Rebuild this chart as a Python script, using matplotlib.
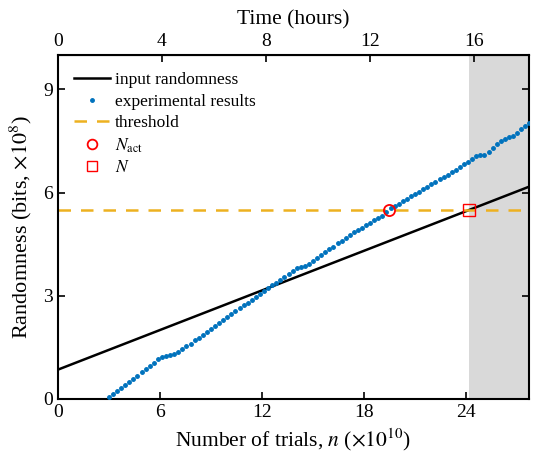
import numpy as np
import matplotlib
matplotlib.use("Agg")
import matplotlib.pyplot as plt
from matplotlib.lines import Line2D

plt.rcParams['font.family'] = ['Liberation Serif', 'DejaVu Serif']
plt.rcParams['mathtext.fontset'] = 'stix'

# ---- data ----
n_trials = [3.00 + 0.24 * i for i in range(104)]  # x 10^10 trials
exp_random = [
    0.05, 0.14, 0.23, 0.32, 0.41, 0.50, 0.59, 0.68, 0.78, 0.87,
    0.96, 1.05, 1.16, 1.21, 1.24, 1.27, 1.31, 1.36, 1.44, 1.53,
    1.61, 1.70, 1.78, 1.87, 1.95, 2.04, 2.12, 2.21, 2.29, 2.38,
    2.46, 2.55, 2.63, 2.72, 2.80, 2.89, 2.97, 3.06, 3.14, 3.22,
    3.30, 3.38, 3.46, 3.55, 3.63, 3.71, 3.80, 3.83, 3.85, 3.92,
    4.00, 4.09, 4.18, 4.26, 4.35, 4.43, 4.52, 4.60, 4.69, 4.77,
    4.84, 4.91, 4.98, 5.05, 5.12, 5.19, 5.26, 5.33, 5.44, 5.54,
    5.61, 5.68, 5.75, 5.82, 5.89, 5.96, 6.03, 6.10, 6.17, 6.24,
    6.31, 6.38, 6.45, 6.52, 6.59, 6.66, 6.74, 6.82, 6.90, 6.98,
    7.06, 7.08, 7.10, 7.17, 7.29, 7.41, 7.51, 7.57, 7.61, 7.64,
    7.74, 7.84, 7.93, 8.02,
]
input_line_x = [0.0, 27.7]
input_line_y = [0.85, 6.17]
threshold = 5.48
n_act = 19.45
n_req = 24.15
x_max = 27.7
x_ticks = [0, 6, 12, 18, 24]
y_ticks = [0, 3, 6, 9]
hour_ticks = [0, 4, 8, 12, 16]
trials_per_hour = 1.53  # x 10^10 trials per hour

blue = '#0072BD'
orange = '#EDB120'

fig = plt.figure(figsize=(5.36, 4.66), dpi=100)
ax = fig.add_axes([0.108, 0.144, 0.879, 0.738])

ax.axvspan(n_req, x_max, color='#d9d9d9', lw=0, zorder=0)
ax.plot(input_line_x, input_line_y, color='black', lw=1.8, zorder=2)
ax.plot(n_trials, exp_random, ls='none', marker='.', ms=5, color=blue, zorder=3)
ax.axhline(threshold, color=orange, lw=1.8, ls=(0, (5, 4)), zorder=2)
ax.plot([n_act], [threshold], ls='none', marker='o', ms=8, mfc='none', mec='red', mew=1.3, zorder=4)
ax.plot([n_req], [threshold], ls='none', marker='s', ms=8, mfc='none', mec='red', mew=1.0, zorder=4)

ax.set_xlim(0, x_max)
ax.set_ylim(0, 10)
ax.set_xticks(x_ticks)
ax.set_yticks(y_ticks)
ax.tick_params(direction='in', length=5, width=1.2, labelsize=14, right=True)
for s in ax.spines.values():
    s.set_linewidth(1.5)

ax.set_xlabel(r'Number of trials, $n$ ($\times10^{10}$)', fontsize=15.5, labelpad=4)
ax.set_ylabel(r'Randomness (bits, $\times10^{8}$)', fontsize=16, labelpad=7)

sec = ax.secondary_xaxis('top', functions=(lambda n: n / trials_per_hour,
                                          lambda h: h * trials_per_hour))
sec.set_xticks(hour_ticks)
sec.tick_params(direction='in', length=5, width=1.2, labelsize=14)
sec.set_xlabel('Time (hours)', fontsize=15.5, labelpad=6)

handles = [
    Line2D([], [], color='black', lw=1.8),
    Line2D([], [], ls='none', marker='.', ms=5, color=blue),
    Line2D([], [], color=orange, lw=1.8, ls=(0, (5, 4))),
    Line2D([], [], ls='none', marker='o', ms=7, mfc='none', mec='red', mew=1.3),
    Line2D([], [], ls='none', marker='s', ms=7, mfc='none', mec='red', mew=1.0),
]
labels = ['input randomness', 'experimental results', 'threshold',
          r'$N_{\rm act}$', r'$N$']
ax.legend(handles, labels, loc='upper left', frameon=False, fontsize=12.5,
          handlelength=2.1, handletextpad=0.25, labelspacing=0.3,
          borderaxespad=0.0, bbox_to_anchor=(0.019, 0.97))

fig.savefig('out.png', dpi=100)
